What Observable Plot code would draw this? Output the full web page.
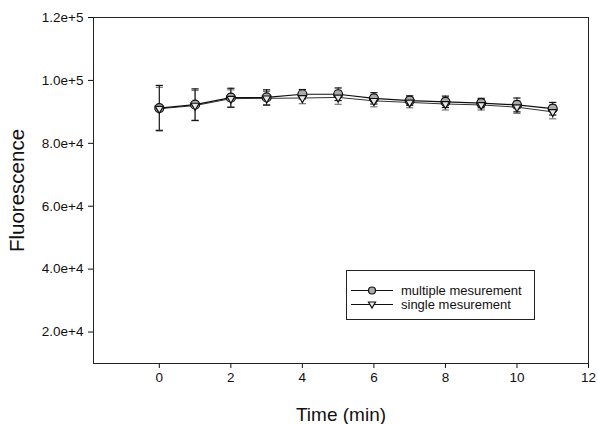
<!DOCTYPE html>
<html>
<head>
<meta charset="utf-8">
<script src="https://cdn.jsdelivr.net/npm/d3@7"></script>
<script src="https://cdn.jsdelivr.net/npm/@observablehq/plot@0.6"></script>
<style>
  body { margin: 0; background: #fff; font-family: "Liberation Sans", Arial, sans-serif; }
  #wrap { position: relative; width: 598px; height: 424px; }
  #legend { position: absolute; left: 346px; top: 270px; width: 189px; height: 50px;
            border: 1px solid #222; background: #fff; box-sizing: border-box; font-size: 13px; color: #111; }
  .row { position: absolute; left: 4px; height: 13px; line-height: 13px; display: flex; align-items: center; }
  .row svg { margin-right: 8px; }
</style>
</head>
<body>
<div id="wrap"></div>
<script>
// Data
const times = [0, 1, 2, 3, 4, 5, 6, 7, 8, 9, 10, 11];
const multipleMean = [91200, 92300, 94500, 94600, 95600, 95600, 94300, 93600, 93200, 92800, 92200, 91000];
const multipleErr  = [7200, 5000, 3000, 2400, 1500, 2000, 1800, 1500, 1800, 1500, 2200, 2000];
const singleMean   = [91000, 92000, 94200, 94300, 94400, 94600, 93500, 93000, 92500, 92200, 91500, 90000];
const singleErr    = [6800, 4800, 2800, 2200, 1800, 2200, 1900, 1700, 1900, 1600, 2000, 2200];
const seriesNames  = ["multiple mesurement", "single mesurement"];
const xTicks = [0, 2, 4, 6, 8, 10, 12];
const yTicks = [20000, 40000, 60000, 80000, 100000, 120000];

const multiple = times.map((t, i) => ({t, v: multipleMean[i], lo: multipleMean[i] - multipleErr[i], hi: multipleMean[i] + multipleErr[i]}));
const single = times.map((t, i) => ({t, v: singleMean[i], lo: singleMean[i] - singleErr[i], hi: singleMean[i] + singleErr[i]}));

const capSymbol = { draw(ctx, size) { const w = 3.6; ctx.moveTo(-w, 0); ctx.lineTo(w, 0); } };

function errorMarks(data, color) {
  return [
    Plot.ruleX(data, {x: "t", y1: "lo", y2: "hi", stroke: color, strokeWidth: 1}),
    Plot.dot(data, {x: "t", y: "hi", symbol: capSymbol, stroke: color, strokeWidth: 1.2, r: 4}),
    Plot.dot(data, {x: "t", y: "lo", symbol: capSymbol, stroke: color, strokeWidth: 1.2, r: 4})
  ];
}

const chart = Plot.plot({
  width: 598,
  height: 424,
  marginLeft: 93,
  marginRight: 10,
  marginTop: 17,
  marginBottom: 61,
  style: {fontFamily: "'Liberation Sans', Arial, sans-serif", fontSize: "13.5px", color: "#111", background: "#fff"},
  x: {domain: [-1.84, 12], ticks: xTicks},
  y: {domain: [10000, 120000], ticks: yTicks},
  marks: [
    Plot.frame({stroke: "#222"}),
    Plot.axisX({ticks: xTicks, tickSize: 5, tickPadding: 4, fontSize: 13.5, label: null}),
    Plot.axisY({ticks: yTicks, tickSize: 5, tickPadding: 5, fontSize: 13.5, label: null,
                tickFormat: d => d.toExponential(1)}),
    Plot.text(["Time (min)"], {frameAnchor: "bottom", dy: 51, fontSize: 19, textAnchor: "middle", lineAnchor: "middle", text: d => d}),
    Plot.text(["Fluorescence"], {frameAnchor: "left", dx: -76, rotate: -90, fontSize: 20.5, textAnchor: "middle", lineAnchor: "middle", text: d => d}),
    Plot.line(single, {x: "t", y: "v", stroke: "#333", strokeWidth: 1}),
    Plot.line(multiple, {x: "t", y: "v", stroke: "#111", strokeWidth: 1.2}),
    ...errorMarks(single, "#777"),
    ...errorMarks(multiple, "#111"),
    Plot.dot(multiple, {x: "t", y: "v", r: 4.5, fill: "#aaa", stroke: "#111", strokeWidth: 1.2}),
    Plot.dot(single, {x: "t", y: "v", symbol: "triangle", r: 3, rotate: 180, fill: "#e8e8e8", stroke: "#111", strokeWidth: 1.2})
  ]
});

const wrap = document.getElementById("wrap");
wrap.appendChild(chart);

// Legend
const legend = document.createElement("div");
legend.id = "legend";
const rows = [
  {name: seriesNames[0], sym: `<circle cx="8" cy="6.5" r="3.5" fill="#aaa" stroke="#111" stroke-width="1.2"/>`, center: 19},
  {name: seriesNames[1], sym: `<path d="M4.5,4 L11.5,4 L8,10 Z" fill="#eee" stroke="#111" stroke-width="1.2"/>`, center: 33}
];
for (const r of rows) {
  const row = document.createElement("div");
  row.className = "row";
  row.style.top = (r.center - 6.5) + "px";
  row.innerHTML = `<svg width="42" height="13"><line x1="0" y1="6.5" x2="42" y2="6.5" stroke="#111" stroke-width="1.2"/><g transform="translate(13,0)">${r.sym}</g></svg><span>${r.name}</span>`;
  legend.appendChild(row);
}
wrap.appendChild(legend);
</script>
</body>
</html>
